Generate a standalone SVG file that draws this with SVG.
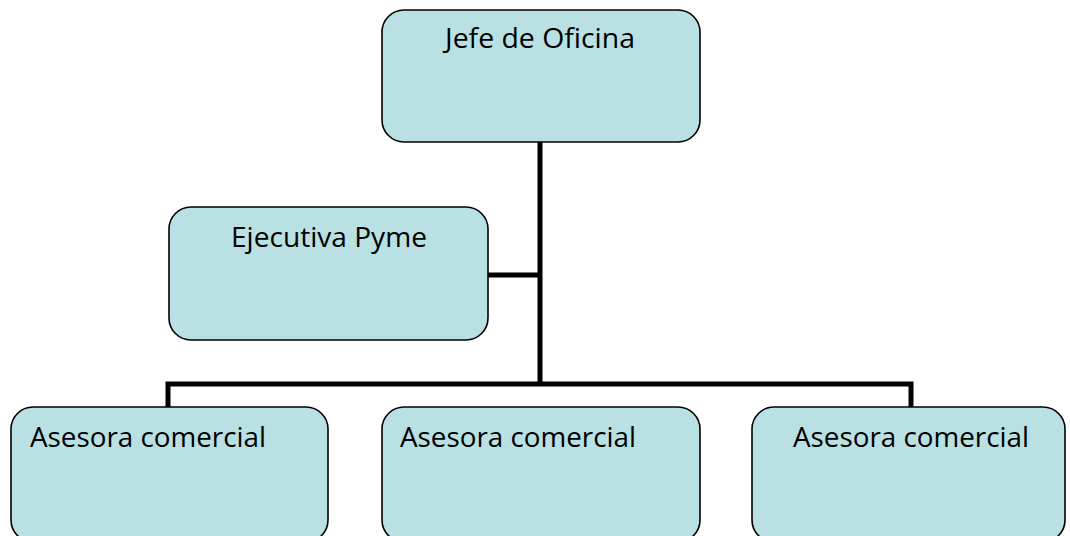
<svg xmlns="http://www.w3.org/2000/svg" width="1070" height="536" viewBox="0 0 1070 536">
<style>
.box{fill:#b9e0e3;stroke:#000;stroke-width:1.6}
.lbl{font-family:"Open Sans","Liberation Sans",sans-serif;font-size:28px;fill:#000}
.conn{fill:none;stroke:#000;stroke-width:5}
</style>
<rect width="1070" height="536" fill="#fff"/>
<g id="connectors">
<path class="conn" d="M540 142 V384"/>
<path class="conn" d="M488 275 H540"/>
<path class="conn" d="M168 407 V384 H911 V407"/>
</g>
<g id="jefe">
<rect class="box" x="382" y="10" width="318" height="132" rx="22"/>
<text class="lbl" x="540" y="48" text-anchor="middle" textLength="190" lengthAdjust="spacingAndGlyphs">Jefe de Oficina</text>
</g>
<g id="ejecutiva">
<rect class="box" x="169" y="207" width="319" height="133" rx="22"/>
<text class="lbl" x="329" y="247" text-anchor="middle" textLength="196" lengthAdjust="spacingAndGlyphs">Ejecutiva Pyme</text>
</g>
<g id="asesora1">
<rect class="box" x="11" y="407" width="317" height="135" rx="22"/>
<text class="lbl" x="30" y="447" textLength="236" lengthAdjust="spacingAndGlyphs">Asesora comercial</text>
</g>
<g id="asesora2">
<rect class="box" x="382" y="407" width="318" height="135" rx="22"/>
<text class="lbl" x="400" y="447" textLength="236" lengthAdjust="spacingAndGlyphs">Asesora comercial</text>
</g>
<g id="asesora3">
<rect class="box" x="752" y="407" width="313" height="135" rx="22"/>
<text class="lbl" x="793" y="447" textLength="236" lengthAdjust="spacingAndGlyphs">Asesora comercial</text>
</g>
</svg>
